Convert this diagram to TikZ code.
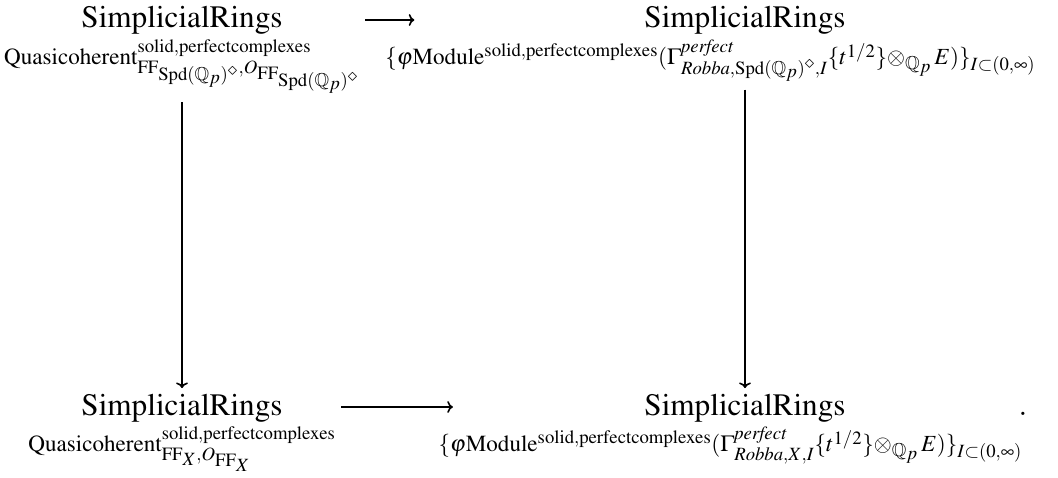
\documentclass[tikz,border=0pt]{standalone}
\usepackage{amsmath,amssymb}
\usepackage{mathptmx}
\usetikzlibrary{arrows.meta}

\newcommand{\SRings}{\mathrm{SimplicialRings}}
\newcommand{\Qp}{\mathbb{Q}_p}
\newcommand{\solperf}{\mathrm{solid},\mathrm{perfectcomplexes}}

\begin{document}
\begin{tikzpicture}[x=0.75pt,y=-0.75pt,
    obj/.style={inner sep=4pt,anchor=base,font=\fontsize{23.4}{28}\selectfont}]
  \useasboundingbox (0,0) rectangle (1058,478);

  % Top row
  \node[obj] (tl) at (182,28) {$\displaystyle\underset{\mathrm{Quasicoherent}^{\solperf}_{\mathrm{FF}_{\mathrm{Spd}(\Qp)^{\diamond}},O_{\mathrm{FF}_{\mathrm{Spd}(\Qp)^{\diamond}}}}}{\SRings}$};
  \node[obj] (tr) at (745,28) {$\displaystyle\underset{\kern-26pt\{\varphi\mathrm{Module}^{\solperf}(\Gamma^{\mathit{perfect}}_{\mathit{Robba},\mathrm{Spd}(\Qp)^{\diamond},I}\{t^{1/2}\}\otimes_{\Qp}\,E)\}_{I\subset(0,\infty)}\kern26pt}{\SRings}$};

  % Bottom row
  \node[obj] (bl) at (182,415) {$\displaystyle\underset{\mathrm{Quasicoherent}^{\solperf}_{\mathrm{FF}_X,O_{\mathrm{FF}_X}}}{\SRings}$};
  \node[obj] (br) at (745,415) {$\displaystyle\underset{\kern-11pt\{\varphi\mathrm{Module}^{\solperf}(\Gamma^{\mathit{perfect}}_{\mathit{Robba},X,I}\{t^{1/2}\}\otimes_{\Qp}\,E)\}_{I\subset(0,\infty)}\kern11pt}{\SRings}$};
  \node[obj] (dot) at (1023,415) {$.$};

  % Maps
  \draw[very thick,->] ([yshift=6pt]tl.base east) -- ([yshift=6pt]tr.base west);
  \draw[very thick,->] ([yshift=6pt]bl.base east) -- ([xshift=4pt,yshift=6pt]br.base west);
  \draw[very thick,->] (tl) -- (bl);
  \draw[very thick,->] (tr) -- (br);
\end{tikzpicture}
\end{document}
